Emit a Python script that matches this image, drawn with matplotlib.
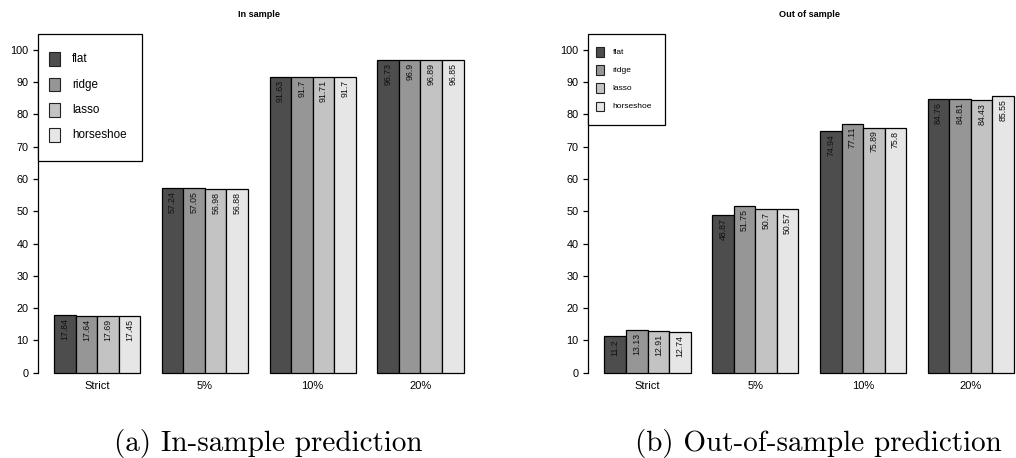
import numpy as np
import matplotlib
matplotlib.use("Agg")
import matplotlib.pyplot as plt
from matplotlib.patches import Rectangle
import matplotlib.transforms as mtransforms

plt.rcParams['font.family'] = ['Liberation Sans', 'DejaVu Sans']

# accuracy (%) per threshold and prior
categories = ['Strict', '5%', '10%', '20%']
methods = ['flat', 'ridge', 'lasso', 'horseshoe']
colors = ['#4D4D4D', '#969696', '#C3C3C3', '#E6E6E6']

in_sample = {
    'flat':      [17.84, 57.24, 91.63, 96.73],
    'ridge':     [17.64, 57.05, 91.70, 96.90],
    'lasso':     [17.69, 56.98, 91.71, 96.89],
    'horseshoe': [17.45, 56.88, 91.70, 96.85],
}
out_sample = {
    'flat':      [11.20, 48.87, 74.94, 84.76],
    'ridge':     [13.13, 51.75, 77.11, 84.81],
    'lasso':     [12.91, 50.70, 75.89, 84.43],
    'horseshoe': [12.74, 50.57, 75.80, 85.55],
}
in_labels = [['17.84', '57.24', '91.63', '96.73'],
             ['17.64', '57.05', '91.7', '96.9'],
             ['17.69', '56.98', '91.71', '96.89'],
             ['17.45', '56.88', '91.7', '96.85']]
out_labels = [['11.2', '48.87', '74.94', '84.76'],
              ['13.13', '51.75', '77.11', '84.81'],
              ['12.91', '50.7', '75.89', '84.43'],
              ['12.74', '50.57', '75.8', '85.55']]

W, H = 1016, 458
fig = plt.figure(figsize=(W / 100, H / 100), dpi=100)

AX_W, AX_H = 442.4, 352.2


def add_axes_px(left, top):
    return fig.add_axes([left / W, 1 - (top + AX_H) / H, AX_W / W, AX_H / H])


def draw_key(ax, s, box_w):
    # boxed key in the top-left corner, sizes in pixels scaled by s
    px = lambda dx: dx / AX_W
    py = lambda dy: 1 - dy / AX_H
    pitch = 25.2 * s
    first = 25.8 * s
    box_h = first * 2 + pitch * 3
    ax.add_patch(Rectangle((0, py(box_h)), px(box_w), box_h / AX_H,
                           transform=ax.transAxes, facecolor='white',
                           edgecolor='black', lw=0.9, clip_on=False, zorder=5))
    sw, sh = 11 * s, 13.7 * s
    for i, (m, c) in enumerate(zip(methods, colors)):
        cy = first + i * pitch
        ax.add_patch(Rectangle((px(11.8 * s), py(cy + sh / 2)), px(sw), sh / AX_H,
                               transform=ax.transAxes, facecolor=c,
                               edgecolor='#222222', lw=0.8, clip_on=False, zorder=6))
        ax.text(px(34.5 * s), py(cy), m, transform=ax.transAxes, fontsize=8.4 * s,
                va='center', ha='left', zorder=7)


def panel(ax, data, labels, title, key_scale, key_w):
    x0 = np.arange(len(categories)) * 5 + 1
    for j, m in enumerate(methods):
        xs = x0 + j
        bars = ax.bar(xs, data[m], width=1.0, align='edge', color=colors[j],
                      edgecolor='black', linewidth=0.9)
        for b, txt in zip(bars, labels[j]):
            ax.annotate(txt, (b.get_x() + 0.5, b.get_height()), xytext=(0, -3),
                        textcoords='offset pixels', rotation=90, ha='center',
                        va='top', fontsize=6.3, color='#111111')
    ax.set_xlim(1 - 0.04 * 19, 20 + 0.04 * 19)
    ax.set_ylim(-0.04 * 101, 101 * 1.04)
    for sp in ['top', 'right', 'bottom']:
        ax.spines[sp].set_visible(False)
    ax.spines['left'].set_bounds(0, 100)
    ax.spines['left'].set_linewidth(0.9)
    ax.set_yticks(np.arange(0, 101, 10))
    ax.tick_params(axis='y', length=3.6, width=0.9, pad=3.1, labelsize=7.8)
    ax.set_xticks([])
    trans = mtransforms.blended_transform_factory(ax.transData, ax.transAxes)
    for g, cat in enumerate(categories):
        ax.text(x0[g] + 2, 0, cat, transform=trans, ha='center', va='center',
                fontsize=8)
    ax.text(0.5, 1 + 19.5 / AX_H, title, transform=ax.transAxes, ha='center',
            va='center', fontsize=6.6, fontweight='bold')
    draw_key(ax, key_scale, key_w)


ax1 = add_axes_px(37.6, 33.5)
panel(ax1, in_sample, in_labels, 'In sample', 1.0, 104.7)

ax2 = add_axes_px(588.0, 33.5)
panel(ax2, out_sample, out_labels, 'Out of sample', 0.72, 77.3)

fig.text(268 / W, 1 - 443 / H, '(a) In-sample prediction', family='cmr10',
         fontsize=21, ha='center', va='center')
fig.text(818.5 / W, 1 - 443 / H, '(b) Out-of-sample prediction', family='cmr10',
         fontsize=21, ha='center', va='center')

fig.savefig('out.png', dpi=100, facecolor='white')
